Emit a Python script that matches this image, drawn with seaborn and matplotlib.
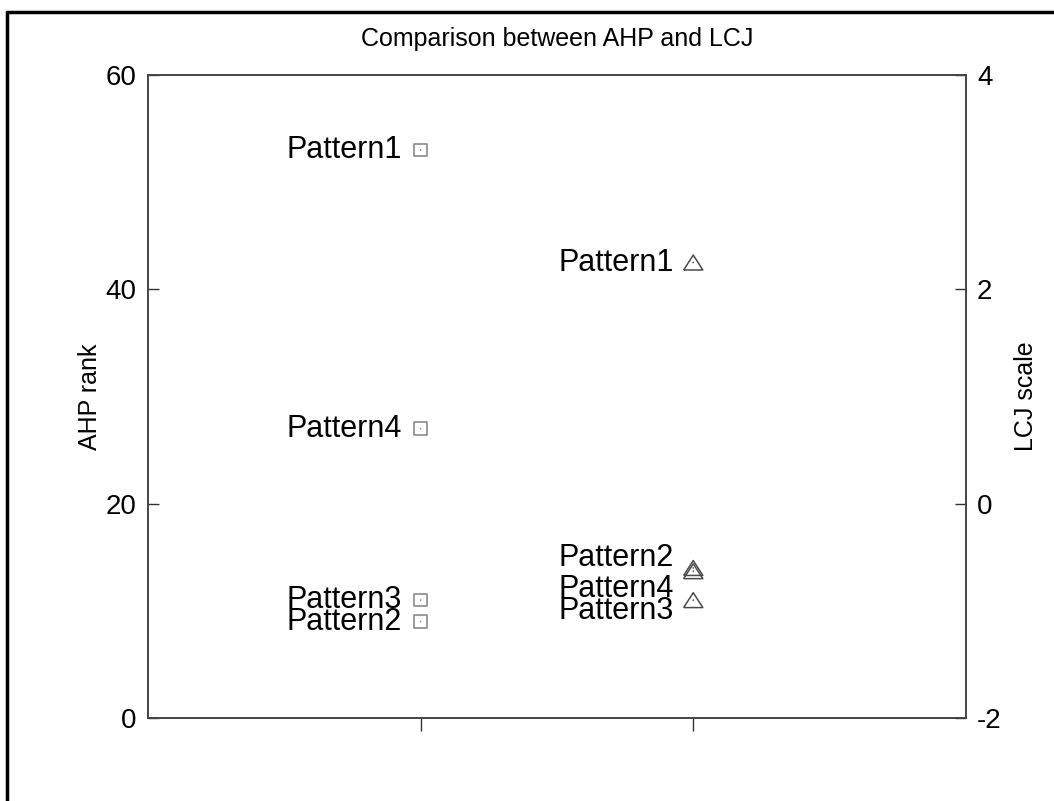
import matplotlib
matplotlib.use("Agg")
import matplotlib.pyplot as plt
import seaborn as sns
import pandas as pd
from matplotlib.lines import Line2D

# ===== DATA =====
patterns = ["Pattern1", "Pattern2", "Pattern3", "Pattern4"]
ahp_rank = [53, 9, 11, 27]
lcj_scale = [2.25, -0.60, -0.90, -0.63]
lcj_label_pos = [2.25, -0.51, -1.00, -0.80]  # text labels were nudged apart in the original

df_ahp = pd.DataFrame({"pattern": patterns, "x": 1, "y": ahp_rank})
df_lcj = pd.DataFrame({"pattern": patterns, "x": 2, "y": lcj_scale, "ly": lcj_label_pos})

sns.set_style("white")
plt.rcParams["font.family"] = ["Liberation Sans", "DejaVu Sans"]
plt.rcParams["axes.unicode_minus"] = False
plt.rcParams["text.color"] = "black"
plt.rcParams["axes.labelcolor"] = "black"

fig = plt.figure(figsize=(10.54, 8.01), dpi=100)
ax = fig.add_axes([0.1404, 0.1036, 0.776, 0.8028])
ax2 = ax.twinx()

# left axis: AHP rank, gray squares
sns.scatterplot(data=df_ahp, x="x", y="y", ax=ax, marker="s", s=80,
                facecolor="none", edgecolor="#8a8a8a", linewidth=1.2, legend=False)
sns.scatterplot(data=df_ahp, x="x", y="y", ax=ax, marker=".", s=6,
                color="#8a8a8a", edgecolor="none", legend=False)
for _, row in df_ahp.iterrows():
    ax.text(row["x"] - 0.07, row["y"], row["pattern"], ha="right", va="center",
            fontsize=22, color="black")

# right axis: LCJ scale, dark triangles
tri = [(-1, -0.78), (1, -0.78), (0, 0.78), (-1, -0.78)]
sns.scatterplot(data=df_lcj, x="x", y="y", ax=ax2, marker=tri, s=190,
                facecolor="none", edgecolor="#4a4a4a", linewidth=1.1, legend=False)
sns.scatterplot(data=df_lcj, x="x", y="y", ax=ax2, marker=".", s=6,
                color="#4a4a4a", edgecolor="none", legend=False)
for _, row in df_lcj.iterrows():
    ax2.text(row["x"] - 0.07, row["ly"], row["pattern"], ha="right", va="center",
             fontsize=22, color="black")

ax.set_xlim(0, 3)
ax.set_ylim(0, 60)
ax2.set_ylim(-2, 4)
ax.set_xticks([1, 2])
ax.set_xticklabels([])
ax.set_yticks([0, 20, 40, 60])
ax2.set_yticks([-2, 0, 2, 4])
ax.set_xlabel("")
ax.set_ylabel("AHP rank", fontsize=18, labelpad=3)
ax2.set_ylabel("LCJ scale", fontsize=18, labelpad=9)
ax2.set_xlabel("")
ax.set_title("Comparison between AHP and LCJ", fontsize=18, pad=21, color="black")

for a in (ax, ax2):
    a.tick_params(direction="in", length=8, width=1, colors="#333333",
                  labelsize=20, labelcolor="black", pad=8)
    for sp in a.spines.values():
        sp.set_color("#444444")
        sp.set_linewidth(1.2)
ax.tick_params(axis="x", bottom=True, direction="out", length=9)

# outer frame around the figure (cut off at bottom/right in the original)
fig.add_artist(Line2D([7 / 1054, 1.0], [1 - 12 / 801] * 2, color="black", lw=2.5,
                      transform=fig.transFigure))
fig.add_artist(Line2D([7 / 1054] * 2, [0.0, 1 - 12 / 801], color="black", lw=2.5,
                      transform=fig.transFigure))

fig.savefig("out.png", dpi=100)
